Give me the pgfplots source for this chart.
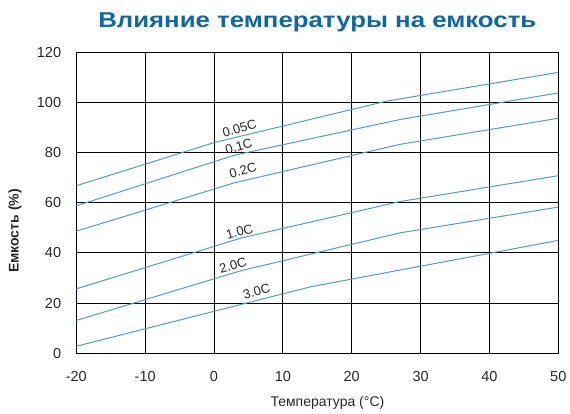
\documentclass[border=0pt]{standalone}
\usepackage{fontspec}
\setmainfont{Liberation Sans}
\usepackage{pgfplots}
\pgfplotsset{compat=1.18}
\definecolor{curve}{RGB}{74,158,212}
\definecolor{titleblue}{RGB}{14,104,168}
\pgfplotsset{capline/.style={color=curve, line width=1bp, mark=none, solid}}

\begin{document}
\begin{tikzpicture}
\useasboundingbox (0,0) rectangle (570bp,414bp);
\begin{axis}[
  at={(76.3bp,60.7bp)}, anchor=south west,
  scale only axis, width=482bp, height=301bp,
  xmin=-20, xmax=50, ymin=0, ymax=120,
  xtick={-20,-10,...,50}, ytick={0,20,...,120},
  grid=major,
  major grid style={black, line width=1bp},
  axis line style={black, line width=1.1bp},
  tick style={draw=none},
  /pgf/number format/assume math mode=true,
  ticklabel style={font=\fontsize{14.5bp}{16bp}\selectfont, text=black!85},
  xticklabel style={anchor=center, inner sep=0pt, yshift=-23.4bp},
  yticklabel style={anchor=east, inner sep=0pt, xshift=-15bp},
  title={\scalebox{1.2}[1]{\bfseries Влияние температуры на емкость}},
  title style={at={(axis description cs:0.5,1.08)}, anchor=center,
    font=\fontsize{21.5bp}{24bp}\selectfont, text=titleblue},
  xlabel={Температура (°C)},
  xlabel style={at={(axis description cs:0.521,-0.164)}, anchor=center,
    font=\fontsize{14bp}{16bp}\selectfont, text=black!85},
  ylabel={\bfseries Емкость (\%)},
  ylabel style={at={(axis description cs:-0.127,0.406)}, anchor=center,
    font=\fontsize{14bp}{16bp}\selectfont, text=black!85},
  clip=true,
]
% 0.05C
\addplot[capline] coordinates {(-20,66.8) (0,84) (25,100.5) (50,112)};
% 0.1C
\addplot[capline] coordinates {(-20,58.8) (3,79) (27,93.2) (50,103.8)};
% 0.2C
\addplot[capline] coordinates {(-20,48.7) (3,68) (27,83.3) (50,93.7)};
% 1.0C
\addplot[capline] coordinates {(-20,25.7) (4,46) (27,60.5) (50,70.8)};
% 2.0C
\addplot[capline] coordinates {(-20,13.1) (4,33) (27,48) (50,58.3)};
% 3.0C
\addplot[capline] coordinates {(-20,2.8) (14,26.5) (50,45)};

\begin{scope}[every node/.style={font=\fontsize{13bp}{15bp}\selectfont, text=black!85, rotate=16, inner sep=0pt}]
\node at (axis cs:3.7,89.8) {0.05C};
\node at (axis cs:3.6,82.3) {0.1C};
\node at (axis cs:4.2,72.8) {0.2C};
\node at (axis cs:3.7,48.4) {1.0C};
\node at (axis cs:2.75,35.2) {2.0C};
\node at (axis cs:6.2,24.5) {3.0C};
\end{scope}
\end{axis}
\end{tikzpicture}
\end{document}
